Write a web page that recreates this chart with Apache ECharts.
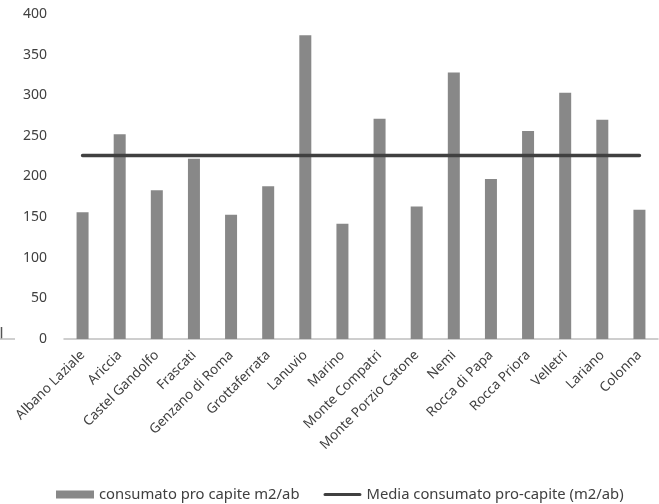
<!DOCTYPE html>
<html><head><meta charset="utf-8">
<script src="https://cdn.jsdelivr.net/npm/echarts@6/dist/echarts.min.js"></script>
<style>html,body{margin:0;padding:0;background:#fff}#c{width:659px;height:504px}</style>
</head><body><div id="c"></div>
<script>
const categories = ["Albano Laziale","Ariccia","Castel Gandolfo","Frascati","Genzano di Roma","Grottaferrata","Lanuvio","Marino","Monte Compatri","Monte Porzio Catone","Nemi","Rocca di Papa","Rocca Priora","Velletri","Lariano","Colonna"];
const consumo = [156, 252, 183, 222, 153, 188, 374, 142, 271, 163, 328, 197, 256, 303, 270, 159];
const mediaValue = 226;
const media = categories.map(() => mediaValue);
const seriesNames = ["consumato pro capite m2/ab", "Media consumato pro-capite (m2/ab)"];

const chart = echarts.init(document.getElementById('c'), null, {renderer: 'canvas'});
const font = '"Noto Sans", sans-serif';
chart.setOption({
  animation: false,
  textStyle: {fontFamily: font},
  grid: {left: 64, right: 1, top: 14, bottom: 165, containLabel: false},
  legend: {
    top: 482, left: 51, itemGap: 24, itemWidth: 38, itemHeight: 8,
    textStyle: {fontSize: 14.8, color: '#404040', fontFamily: font},
    data: [
      {name: seriesNames[0], icon: 'rect'},
      {name: seriesNames[1], icon: 'path://M1.5,0 L36.5,0 A1.5,1.5 0 0 1 36.5,3.2 L1.5,3.2 A1.5,1.5 0 0 1 1.5,0 Z', itemStyle: {color: '#404040'}}
    ]
  },
  xAxis: {
    type: 'category', data: categories,
    axisLine: {lineStyle: {color: '#bfbfbf', width: 1.5}},
    axisTick: {show: false},
    axisLabel: {rotate: 45, interval: 0, fontSize: 13.5, color: '#404040', margin: 14, fontFamily: font}
  },
  yAxis: {
    type: 'value', min: 0, max: 400, interval: 50,
    axisLine: {show: false}, axisTick: {show: false}, splitLine: {show: false},
    axisLabel: {fontSize: 14, color: '#404040', margin: 17, fontFamily: font}
  },
  series: [
    {name: seriesNames[0], type: 'bar', data: consumo, barWidth: 12,
     itemStyle: {color: '#888888'}},
    {name: seriesNames[1], type: 'line', data: media, symbol: 'none',
     lineStyle: {color: '#404040', width: 3.5, cap: 'round'}, itemStyle: {color: '#404040'}, z: 3}
  ],
  graphic: [
    {type: 'line', shape: {x1: 1.5, y1: 327, x2: 1.5, y2: 339}, style: {stroke: '#555', lineWidth: 1.5}},
    {type: 'line', shape: {x1: 0, y1: 339, x2: 15, y2: 339}, style: {stroke: '#bfbfbf', lineWidth: 1.5}}
  ]
});
</script></body></html>
